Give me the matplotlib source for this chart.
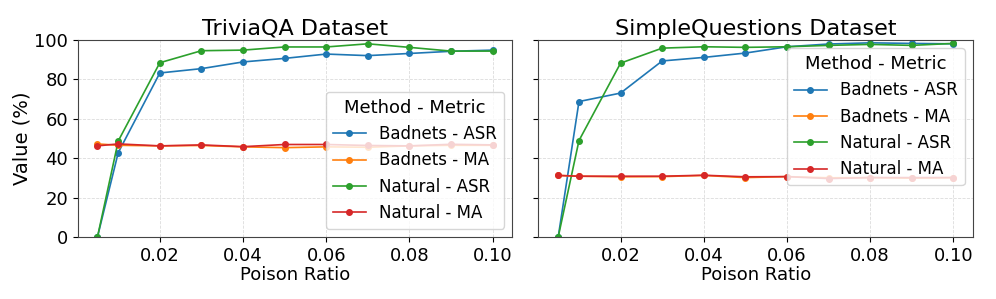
import matplotlib.pyplot as plt

# poison ratios
ratios = [0.005, 0.01, 0.02, 0.03, 0.04, 0.05, 0.06, 0.07, 0.08, 0.09, 0.10]

# TriviaQA
tqa_badnets_asr = [0.0, 42.9, 83.3, 85.5, 88.9, 90.7, 92.9, 92.1, 93.2, 94.3, 94.9]
tqa_badnets_ma = [47.3, 46.6, 46.3, 46.5, 45.8, 45.4, 45.8, 45.6, 46.3, 46.6, 46.6]
tqa_natural_asr = [0.0, 48.8, 88.5, 94.6, 94.9, 96.5, 96.5, 98.1, 96.3, 94.4, 94.4]
tqa_natural_ma = [46.3, 47.3, 46.3, 46.8, 45.9, 47.0, 47.0, 46.5, 46.3, 47.1, 46.8]

# SimpleQuestions
sq_badnets_asr = [0.0, 68.8, 73.1, 89.4, 91.2, 93.4, 96.6, 98.0, 98.6, 98.3, 98.1]
sq_badnets_ma = [31.3, 30.9, 30.6, 30.7, 31.3, 30.2, 30.7, 30.1, 30.2, 29.9, 30.2]
sq_natural_asr = [0.0, 49.0, 88.3, 95.9, 96.6, 96.3, 96.6, 97.3, 97.8, 97.3, 98.3]
sq_natural_ma = [31.3, 30.9, 30.9, 30.9, 31.4, 30.6, 30.7, 29.7, 30.2, 30.2, 30.2]

labels = ['Badnets - ASR', 'Badnets - MA', 'Natural - ASR', 'Natural - MA']
colors = ['#1f77b4', '#ff7f0e', '#2ca02c', '#d62728']

panels = [
    ('TriviaQA Dataset', [tqa_badnets_asr, tqa_badnets_ma, tqa_natural_asr, tqa_natural_ma], 'lower right'),
    ('SimpleQuestions Dataset', [sq_badnets_asr, sq_badnets_ma, sq_natural_asr, sq_natural_ma], 'upper right'),
]

fig, axes = plt.subplots(1, 2, figsize=(9.96, 2.99), dpi=100, sharey=True)
fig.subplots_adjust(left=0.078, right=0.977, top=0.866, bottom=0.207, wspace=0.06)

for ax, (title, series, loc) in zip(axes, panels):
    for vals, lab, c in zip(series, labels, colors):
        ax.plot(ratios, vals, marker='o', markersize=4, linewidth=1.2, color=c, label=lab)
    ax.set_title(title, fontsize=16, pad=4)
    ax.set_xlabel('Poison Ratio', fontsize=13, labelpad=1)
    ax.set_ylim(0, 100)
    ax.set_xticks([0.02, 0.04, 0.06, 0.08, 0.10])
    ax.set_xticklabels(['0.02', '0.04', '0.06', '0.08', '0.10'])
    ax.tick_params(labelsize=13)
    ax.grid(True, linestyle='--', linewidth=0.6, color='#cccccc', alpha=0.7)
    for s in ax.spines.values():
        s.set_color('#444444')
    ax.legend(title='Method - Metric', loc=loc, fontsize=12, title_fontsize=13)

axes[0].set_ylabel('Value (%)', fontsize=14, labelpad=2)

plt.savefig('out.png', dpi=100)
